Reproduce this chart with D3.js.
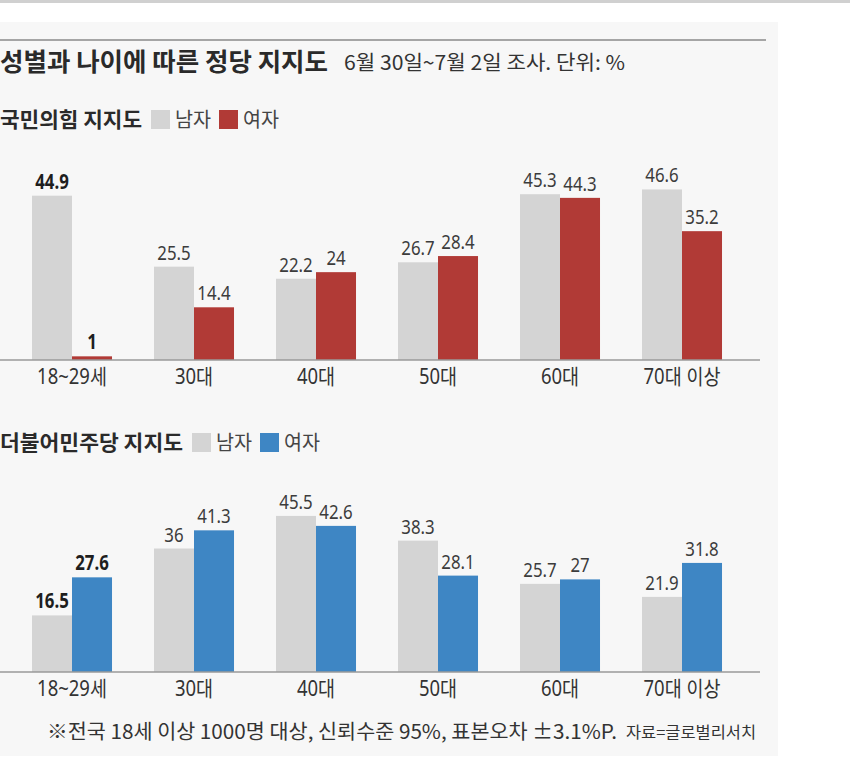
<!DOCTYPE html>
<html>
<head>
<meta charset="utf-8">
<script src="https://cdn.jsdelivr.net/npm/d3@7"></script>
<style>
  body { margin: 0; background: #fff; }
  svg { display: block; }
  text { font-family: "Noto Sans", "Noto Sans CJK KR", sans-serif; }
  .kr { font-family: "Noto Sans CJK KR", sans-serif; }
</style>
</head>
<body>
<svg id="chart" width="850" height="760"></svg>
<script>
// age groups
var ages = ["18~29세", "30대", "40대", "50대", "60대", "70대 이상"];
var sexes = ["남자", "여자"];

// 국민의힘 지지도
var ppp_men = [44.9, 25.5, 22.2, 26.7, 45.3, 46.6];
var ppp_women = [1, 14.4, 24, 28.4, 44.3, 35.2];

// 더불어민주당 지지도
var dem_men = [16.5, 36, 45.5, 38.3, 25.7, 21.9];
var dem_women = [27.6, 41.3, 42.6, 28.1, 27, 31.8];

// labels drawn bold in the original
var ppp_bold = [0];
var dem_bold = [0];

var title = "성별과 나이에 따른 정당 지지도";
var subtitle = "6월 30일~7월 2일 조사. 단위: %";
var note = "※전국 18세 이상 1000명 대상, 신뢰수준 95%, 표본오차 ±3.1%P.";
var source = "자료=글로벌리서치";

var svg = d3.select("#chart");

// squeeze text horizontally, the original uses a condensed face
function squeeze(sel, f) {
    sel.each(function() {
        var w = this.getComputedTextLength();
        d3.select(this).attr("textLength", w * f).attr("lengthAdjust", "spacingAndGlyphs");
    });
}
function fit(sel, w) {
    sel.attr("textLength", w).attr("lengthAdjust", "spacingAndGlyphs");
}

// page frame
svg.append("rect").attr("x", 0).attr("y", 0).attr("width", 850).attr("height", 3).attr("fill", "#d0d0d0");
svg.append("rect").attr("x", 0).attr("y", 22).attr("width", 778).attr("height", 734).attr("fill", "#f7f7f7");
svg.append("line").attr("x1", 0).attr("x2", 766).attr("y1", 40).attr("y2", 40)
    .attr("stroke", "#8a8a8a").attr("stroke-width", 1.5);

svg.append("text").attr("class", "kr").attr("x", 0).attr("y", 71)
    .attr("font-size", 25).attr("font-weight", "bold").attr("fill", "#2a2a2a").text(title)
    .call(fit, 328);
svg.append("text").attr("class", "kr").attr("x", 344).attr("y", 70)
    .attr("font-size", 20).attr("fill", "#333").text(subtitle)
    .call(fit, 281);

var x0 = d3.scaleBand().domain(ages).range([11, 743]).paddingInner(0.344).paddingOuter(0.172);
var x1 = d3.scaleBand().domain(sexes).range([0, x0.bandwidth()]);

function draw_panel(opts) {
    var g = svg.append("g");
    var y = d3.scaleLinear().domain([0, 50]).range([opts.base, opts.base - opts.h]);

    // legend
    var leg = g.append("g").attr("transform", "translate(0," + opts.legY + ")");
    leg.append("text").attr("class", "kr").attr("x", 0).attr("y", 0)
        .attr("font-size", 21).attr("font-weight", "bold").attr("fill", "#2a2a2a").text(opts.name)
        .call(fit, opts.nameW);
    var lx = opts.nameW + 9;
    [["#d4d4d4", "남자"], [opts.color, "여자"]].forEach(function(d) {
        leg.append("rect").attr("x", lx).attr("y", -17).attr("width", 19).attr("height", 19).attr("fill", d[0]);
        leg.append("text").attr("class", "kr").attr("x", lx + 24).attr("y", 0)
            .attr("font-size", 20).attr("fill", "#444").text(d[1])
            .call(fit, 36);
        lx += 24 + 36 + 8;
    });

    var rows = ages.map(function(a, i) {
        return {age: a, vals: [{s: "남자", v: opts.men[i], bold: false}, {s: "여자", v: opts.women[i], bold: false}], i: i};
    });
    opts.bold.forEach(function(i) { rows[i].vals[0].bold = true; rows[i].vals[1].bold = true; });

    var grp = g.selectAll(".grp").data(rows).enter().append("g")
        .attr("transform", function(d) { return "translate(" + x0(d.age) + ",0)"; });

    grp.selectAll("rect").data(function(d) { return d.vals; }).enter().append("rect")
        .attr("x", function(d) { return x1(d.s); })
        .attr("width", x1.bandwidth())
        .attr("y", function(d) { return y(d.v); })
        .attr("height", function(d) { return y(0) - y(d.v); })
        .attr("fill", function(d) { return d.s == "남자" ? "#d4d4d4" : opts.color; });

    grp.selectAll(".val").data(function(d) { return d.vals; }).enter().append("text")
        .attr("class", "val")
        .attr("x", function(d) { return x1(d.s) + x1.bandwidth() / 2; })
        .attr("y", function(d) { return y(d.v) - 7; })
        .attr("text-anchor", "middle")
        .attr("font-size", 20.5)
        .attr("font-weight", function(d) { return d.bold ? "bold" : "normal"; })
        .attr("fill", function(d) { return d.bold ? "#1e1e1e" : "#3c3c3c"; })
        .text(function(d) { return d.v; })
        .call(squeeze, 0.82);

    g.append("line").attr("x1", 0).attr("x2", 760).attr("y1", opts.base).attr("y2", opts.base)
        .attr("stroke", "#9a9a9a").attr("stroke-width", 1.5);

    var ax = d3.axisBottom(x0).tickSize(0).tickPadding(9);
    var axg = g.append("g").attr("transform", "translate(0," + opts.base + ")").call(ax);
    axg.select(".domain").remove();
    axg.selectAll("text").attr("font-size", 21).attr("fill", "#333")
        .attr("font-family", "'Noto Sans', 'Noto Sans CJK KR', sans-serif")
        .call(squeeze, 0.88);
}

draw_panel({name: "국민의힘 지지도", nameW: 142, color: "#b13a36", men: ppp_men, women: ppp_women,
    bold: ppp_bold, base: 360, h: 183, legY: 127});
draw_panel({name: "더불어민주당 지지도", nameW: 183, color: "#3e86c4", men: dem_men, women: dem_women,
    bold: dem_bold, base: 672, h: 171.5, legY: 450});

svg.append("text").attr("class", "kr").attr("x", 47).attr("y", 739)
    .attr("font-size", 20).attr("fill", "#333").text(note).call(fit, 570);
svg.append("text").attr("class", "kr").attr("x", 626).attr("y", 738)
    .attr("font-size", 16).attr("fill", "#333").text(source).call(fit, 130);
</script>
</body>
</html>
